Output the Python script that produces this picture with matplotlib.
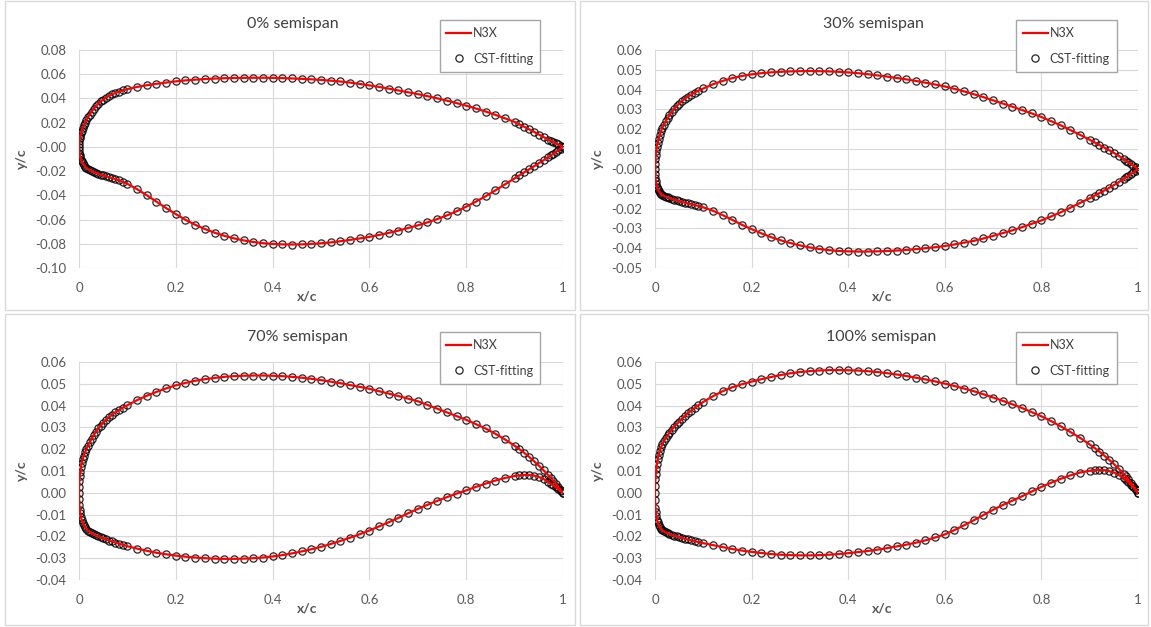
import numpy as np
import matplotlib.pyplot as plt
from matplotlib.patches import Rectangle
from matplotlib.ticker import FormatStrFormatter, MultipleLocator

plt.rcParams['font.family'] = ['Lato', 'DejaVu Sans']

# chordwise stations (same for every section, upper and lower)
x_st = [0, 0.0002, 0.0008, 0.0015, 0.0025, 0.004, 0.0055, 0.0075, 0.01, 0.0125,
        0.015, 0.0185, 0.022, 0.026, 0.03, 0.035, 0.04, 0.045, 0.05, 0.056,
        0.062, 0.068, 0.075, 0.082, 0.09,
        0.10, 0.12, 0.14, 0.16, 0.18, 0.20, 0.22, 0.24, 0.26, 0.28,
        0.30, 0.32, 0.34, 0.36, 0.38, 0.40, 0.42, 0.44, 0.46, 0.48,
        0.50, 0.52, 0.54, 0.56, 0.58, 0.60, 0.62, 0.64, 0.66, 0.68,
        0.70, 0.72, 0.74, 0.76, 0.78, 0.80, 0.82, 0.84, 0.86, 0.88, 0.90,
        0.91, 0.92, 0.93, 0.94, 0.95, 0.96, 0.97, 0.975, 0.98, 0.985, 0.99, 0.995, 1.0]

# 0% semispan
up_0 = [0, 0.0025, 0.0051, 0.0070, 0.0090, 0.0114, 0.0134, 0.0156, 0.0180, 0.0201,
        0.0220, 0.0245, 0.0267, 0.0290, 0.0311, 0.0335, 0.0356, 0.0375, 0.0391, 0.0407,
        0.0421, 0.0433, 0.0445, 0.0456, 0.0466,
        0.0477, 0.0495, 0.0509, 0.0521, 0.0531, 0.0541, 0.0549, 0.0555, 0.0560, 0.0564,
        0.0567, 0.0569, 0.0570, 0.0571, 0.0571, 0.0570, 0.0568, 0.0565, 0.0562, 0.0558,
        0.0553, 0.0547, 0.0540, 0.0531, 0.0520, 0.0508, 0.0495, 0.0481, 0.0466, 0.0451,
        0.0436, 0.0419, 0.0401, 0.0382, 0.0362, 0.0340, 0.0317, 0.0292, 0.0265, 0.0236, 0.0206,
        0.0185, 0.0166, 0.0146, 0.0125, 0.0102, 0.0081, 0.0061, 0.0051, 0.0041, 0.0031, 0.0020, 0.0010, 0.0]
lo_0 = [0, -0.0026, -0.0050, -0.0068, -0.0086, -0.0105, -0.0120, -0.0136, -0.0150, -0.0162,
        -0.0172, -0.0183, -0.0192, -0.0200, -0.0207, -0.0215, -0.0222, -0.0229, -0.0235, -0.0242,
        -0.0249, -0.0257, -0.0266, -0.0276, -0.0289,
        -0.0305, -0.0349, -0.0399, -0.0452, -0.0505, -0.0555, -0.0602, -0.0643, -0.0678, -0.0708,
        -0.0734, -0.0755, -0.0772, -0.0785, -0.0795, -0.0801, -0.0805, -0.0806, -0.0805, -0.0801,
        -0.0796, -0.0789, -0.0779, -0.0768, -0.0756, -0.0743, -0.0727, -0.0710, -0.0691, -0.0670,
        -0.0648, -0.0623, -0.0596, -0.0566, -0.0532, -0.0494, -0.0452, -0.0408, -0.0360, -0.0310, -0.0260,
        -0.0236, -0.0211, -0.0186, -0.0161, -0.0136, -0.0110, -0.0083, -0.0069, -0.0056, -0.0042, -0.0028, -0.0014, 0.0]

# 30% semispan
up_30 = [0, 0.0026, 0.0052, 0.0071, 0.0090, 0.0113, 0.0131, 0.0151, 0.0173, 0.0191,
         0.0206, 0.0224, 0.0240, 0.0256, 0.0270, 0.0287, 0.0302, 0.0316, 0.0329, 0.0342,
         0.0354, 0.0364, 0.0375, 0.0385, 0.0395,
         0.0406, 0.0427, 0.0444, 0.0458, 0.0469, 0.0477, 0.0483, 0.0487, 0.0490, 0.0492,
         0.0493, 0.0494, 0.0493, 0.0492, 0.0490, 0.0487, 0.0483, 0.0478, 0.0472, 0.0466,
         0.0459, 0.0452, 0.0444, 0.0435, 0.0426, 0.0416, 0.0404, 0.0391, 0.0377, 0.0362,
         0.0346, 0.0330, 0.0314, 0.0297, 0.0280, 0.0262, 0.0241, 0.0220, 0.0196, 0.0172, 0.0147,
         0.0134, 0.0121, 0.0108, 0.0095, 0.0081, 0.0066, 0.0050, 0.0042, 0.0034, 0.0025, 0.0017, 0.0008, 0.0]
lo_30 = [0, -0.0024, -0.0045, -0.0060, -0.0075, -0.0090, -0.0101, -0.0111, -0.0120, -0.0126,
         -0.0131, -0.0136, -0.0140, -0.0144, -0.0147, -0.0151, -0.0155, -0.0159, -0.0162, -0.0166,
         -0.0170, -0.0174, -0.0178, -0.0182, -0.0187,
         -0.0194, -0.0211, -0.0233, -0.0257, -0.0282, -0.0304, -0.0325, -0.0344, -0.0360, -0.0374,
         -0.0386, -0.0396, -0.0404, -0.0410, -0.0414, -0.0416, -0.0417, -0.0417, -0.0416, -0.0414,
         -0.0412, -0.0409, -0.0405, -0.0400, -0.0395, -0.0389, -0.0381, -0.0372, -0.0363, -0.0351,
         -0.0338, -0.0324, -0.0310, -0.0294, -0.0277, -0.0260, -0.0240, -0.0219, -0.0196, -0.0172, -0.0148,
         -0.0135, -0.0122, -0.0109, -0.0096, -0.0082, -0.0067, -0.0051, -0.0043, -0.0035, -0.0026, -0.0018, -0.0009, 0.0]

# 70% semispan
up_70 = [0, 0.0028, 0.0055, 0.0075, 0.0095, 0.0118, 0.0135, 0.0153, 0.0171, 0.0186,
         0.0199, 0.0216, 0.0231, 0.0248, 0.0263, 0.0280, 0.0295, 0.0308, 0.0321, 0.0334,
         0.0346, 0.0357, 0.0369, 0.0379, 0.0390,
         0.0402, 0.0425, 0.0445, 0.0463, 0.0479, 0.0493, 0.0504, 0.0514, 0.0521, 0.0527,
         0.0532, 0.0535, 0.0537, 0.0538, 0.0538, 0.0537, 0.0535, 0.0532, 0.0528, 0.0523,
         0.0517, 0.0510, 0.0503, 0.0494, 0.0486, 0.0477, 0.0466, 0.0455, 0.0444, 0.0432,
         0.0420, 0.0403, 0.0386, 0.0369, 0.0352, 0.0335, 0.0315, 0.0295, 0.0271, 0.0245, 0.0216,
         0.0200, 0.0183, 0.0165, 0.0145, 0.0125, 0.0103, 0.0080, 0.0068, 0.0056, 0.0042, 0.0028, 0.0014, 0.0]
lo_70 = [0, -0.0030, -0.0058, -0.0077, -0.0094, -0.0111, -0.0124, -0.0137, -0.0149, -0.0158,
         -0.0165, -0.0173, -0.0179, -0.0185, -0.0190, -0.0195, -0.0200, -0.0205, -0.0209, -0.0214,
         -0.0219, -0.0223, -0.0228, -0.0233, -0.0238,
         -0.0245, -0.0256, -0.0266, -0.0275, -0.0282, -0.0288, -0.0293, -0.0297, -0.0300, -0.0302,
         -0.0303, -0.0303, -0.0302, -0.0300, -0.0297, -0.0292, -0.0286, -0.0278, -0.0269, -0.0259,
         -0.0248, -0.0235, -0.0221, -0.0206, -0.0190, -0.0173, -0.0154, -0.0135, -0.0115, -0.0094,
         -0.0074, -0.0055, -0.0037, -0.0020, -0.0004, 0.0011, 0.0027, 0.0042, 0.0056, 0.0068, 0.0077,
         0.0080, 0.0082, 0.0082, 0.0079, 0.0073, 0.0063, 0.0050, 0.0042, 0.0034, 0.0025, 0.0016, 0.0008, 0.0]

# 100% semispan
up_100 = [0, 0.0032, 0.0063, 0.0086, 0.0109, 0.0134, 0.0154, 0.0174, 0.0194, 0.0209,
          0.0222, 0.0237, 0.0250, 0.0264, 0.0276, 0.0290, 0.0303, 0.0315, 0.0326, 0.0339,
          0.0352, 0.0364, 0.0377, 0.0389, 0.0402,
          0.0417, 0.0443, 0.0466, 0.0484, 0.0498, 0.0510, 0.0521, 0.0531, 0.0540, 0.0548,
          0.0554, 0.0558, 0.0561, 0.0563, 0.0563, 0.0562, 0.0561, 0.0558, 0.0554, 0.0549,
          0.0543, 0.0536, 0.0528, 0.0520, 0.0511, 0.0501, 0.0490, 0.0478, 0.0466, 0.0452,
          0.0437, 0.0422, 0.0406, 0.0389, 0.0370, 0.0351, 0.0329, 0.0305, 0.0279, 0.0252, 0.0222,
          0.0206, 0.0189, 0.0171, 0.0152, 0.0132, 0.0111, 0.0088, 0.0075, 0.0062, 0.0047, 0.0032, 0.0016, 0.0]
lo_100 = [0, -0.0035, -0.0068, -0.0088, -0.0106, -0.0123, -0.0136, -0.0148, -0.0158, -0.0165,
          -0.0171, -0.0177, -0.0182, -0.0186, -0.0189, -0.0193, -0.0197, -0.0200, -0.0203, -0.0207,
          -0.0211, -0.0214, -0.0218, -0.0222, -0.0226,
          -0.0231, -0.0240, -0.0249, -0.0258, -0.0265, -0.0271, -0.0276, -0.0281, -0.0284, -0.0286,
          -0.0287, -0.0287, -0.0286, -0.0284, -0.0281, -0.0277, -0.0272, -0.0267, -0.0261, -0.0254,
          -0.0246, -0.0238, -0.0229, -0.0218, -0.0205, -0.0191, -0.0171, -0.0149, -0.0126, -0.0102,
          -0.0078, -0.0056, -0.0036, -0.0016, 0.0006, 0.0027, 0.0046, 0.0064, 0.0080, 0.0093, 0.0101,
          0.0104, 0.0105, 0.0104, 0.0100, 0.0093, 0.0082, 0.0068, 0.0059, 0.0049, 0.0038, 0.0026, 0.0013, 0.0]

titles = ['0% semispan', '30% semispan', '70% semispan', '100% semispan']
uppers = [up_0, up_30, up_70, up_100]
lowers = [lo_0, lo_30, lo_70, lo_100]
ylims = [(-0.10, 0.08), (-0.05, 0.06), (-0.04, 0.06), (-0.04, 0.06)]
ysteps = [0.02, 0.01, 0.01, 0.01]

W, H = 1151, 627
fig = plt.figure(figsize=(W / 100, H / 100), dpi=100)

# pixel layout: (plot left, plot top, plot right, plot bottom), chart frame, title centre
plot_px = [(79, 50, 563, 268), (655, 50, 1138, 268), (79, 362, 563, 580), (655, 362, 1138, 580)]
frame_px = [(5, 1, 575, 310), (580, 1, 1148, 310), (5, 314, 575, 625), (580, 314, 1148, 625)]
title_px = [(293, 24), (873, 24), (297, 337), (881, 337)]

grey = '#595959'
xs = np.array(x_st)

for i in range(4):
    l, t, r, b = plot_px[i]
    ax = fig.add_axes([l / W, 1 - b / H, (r - l) / W, (b - t) / H])

    fl, ft, fr, fb = frame_px[i]
    fig.add_artist(Rectangle((fl / W, 1 - fb / H), (fr - fl) / W, (fb - ft) / H,
                             transform=fig.transFigure, fill=False, ec='#d9d9d9', lw=1))
    fig.text(title_px[i][0] / W, 1 - title_px[i][1] / H, titles[i],
             ha='center', va='center', fontsize=11.5, color='#404040')

    # closed contour: TE -> upper -> LE -> lower -> TE
    up = np.array(uppers[i])
    lo = np.array(lowers[i])
    xx = np.concatenate([xs[::-1], xs[1:]])
    yy = np.concatenate([up[::-1], lo[1:]])

    pts, = ax.plot(xx, yy, 'o', ms=5.2, mfc='none', mec='black', mew=0.9, alpha=0.85,
                   label='CST-fitting', zorder=3)
    ln, = ax.plot(xx, yy, color='red', lw=1.6, label='N3X', zorder=4)

    ax.set_xlim(0, 1)
    ax.set_ylim(*ylims[i])
    ax.xaxis.set_major_locator(MultipleLocator(0.2))
    ax.yaxis.set_major_locator(MultipleLocator(ysteps[i]))
    ax.xaxis.set_major_formatter(lambda v, p: '%g' % round(v, 2))
    ax.yaxis.set_major_formatter(FormatStrFormatter('%.2f'))
    ax.grid(True, color='#d9d9d9', lw=0.8)
    ax.set_axisbelow(True)
    for s in ax.spines.values():
        s.set_visible(False)
    ax.tick_params(length=0, labelsize=9.5, labelcolor=grey)
    ax.tick_params(axis='y', pad=9)
    ax.tick_params(axis='x', pad=10)

    ax.set_xlabel('x/c', fontsize=10, fontweight='bold', color=grey)
    ax.xaxis.set_label_coords(0.471, -0.133)
    ax.xaxis.label.set_va('center')
    ax.set_ylabel('y/c', fontsize=10, fontweight='bold', color=grey)
    ax.yaxis.set_label_coords(-0.118, 0.5)
    ax.yaxis.label.set_va('center')

    leg_x = 0.745 if i in (0, 2) else 0.747
    leg = ax.legend(handles=[ln, pts], loc='upper left', bbox_to_anchor=(leg_x, 1.137),
                    borderaxespad=0, fontsize=9, numpoints=1, handlelength=2.0,
                    handletextpad=0.15, labelspacing=1.1, borderpad=0.55,
                    fancybox=False, framealpha=1, edgecolor='#a6a6a6')
    leg.get_frame().set_linewidth(1.0)
    for txt in leg.get_texts():
        txt.set_color('#404040')

fig.savefig('out.png', dpi=100)
